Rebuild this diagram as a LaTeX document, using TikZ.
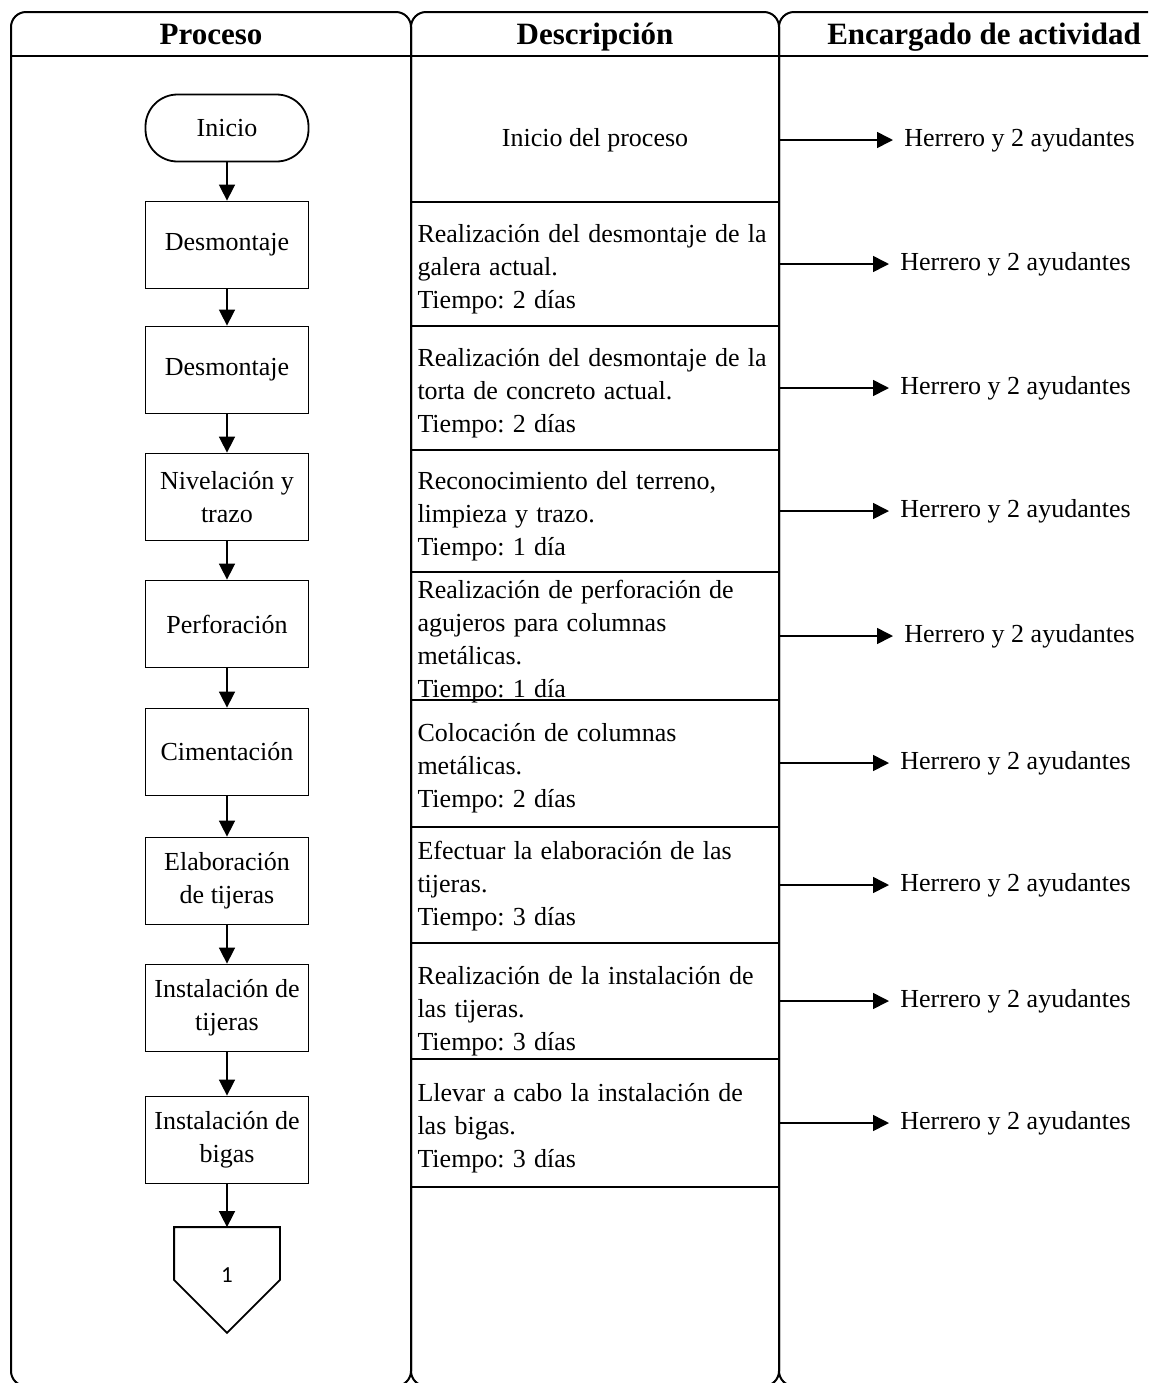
\documentclass[tikz,border=0pt]{standalone}
\usepackage{fontspec}
\setmainfont{Liberation Serif}
\newfontfamily\numfont{Carlito}
\usetikzlibrary{arrows.meta}
\newcommand{\rowtext}[2][2.5pt]{\raisebox{-#1}[\height][\depth]{\parbox{177.5pt}{\raggedright\spaceskip=4.1pt plus 1pt #2}}}

\begin{document}
\frenchspacing
\begin{tikzpicture}[x=0.5pt,y=-0.5pt]
   \tikzstyle{every node}=[font=\fontsize{13}{16.5}\selectfont]
   \tikzstyle{lane}=[draw, line width=1pt, rounded corners=7.5pt]
   \tikzstyle{head}=[anchor=base, font=\fontsize{15.5}{18}\selectfont\bfseries]
   \tikzstyle{proc}=[draw, line width=0.9pt, minimum width=81.5pt, minimum height=43.5pt, align=center, inner sep=1pt]
   \tikzstyle{term}=[proc, rounded corners=16pt, minimum height=33.5pt]
   \tikzstyle{desc}=[draw, line width=0.9pt, inner xsep=3pt, inner ysep=0pt]
   \tikzstyle{who}=[anchor=west, inner xsep=5.5pt]
   \tikzstyle{flow}=[-{Triangle[length=8pt,width=8pt]}, line width=0.8pt]

\useasboundingbox (0,0) rectangle (1148,1383);
\clip (0,0) rectangle (1148,1383);

\draw[lane] (11,12) rectangle (411,1386);
\draw[lane] (411,12) rectangle (779,1386);
\draw[lane] (779,12) rectangle (1190,1386);
\draw[line width=1pt] (11,56) -- (1190,56);

\node[head] (proceso) at (211,44) {Proceso};
\node[head] (descripcion) at (595,44) {Descripción};
\node[head] (encargado) at (984,44) {Encargado de actividad};

\node[term] (p0) at (227,128) {Inicio};
\node[proc] (p1) at (227,245) {Desmontaje};
\node[proc] (p2) at (227,370) {Desmontaje};
\node[proc] (p3) at (227,497) {Nivelación y\\trazo};
\node[proc] (p4) at (227,624) {Perforación};
\node[proc] (p5) at (227,752) {Cimentación};
\node[proc] (p6) at (227,881) {Elaboración\\de tijeras};
\node[proc] (p7) at (227,1008) {Instalación de\\tijeras};
\node[proc] (p8) at (227,1140) {Instalación de\\bigas};
\node[minimum width=52.5pt, minimum height=52.5pt, font=\numfont\fontsize{11.5}{13}\selectfont] (p9) at (227,1280) {\raisebox{5pt}{1}};
\draw[line width=0.9pt] (p9.north west) -- (p9.north east) -- (p9.east) -- (p9.south) -- (p9.west) -- cycle;

\draw[flow] (p0) -- (p1);
\draw[flow] (p1) -- (p2);
\draw[flow] (p2) -- (p3);
\draw[flow] (p3) -- (p4);
\draw[flow] (p4) -- (p5);
\draw[flow] (p5) -- (p6);
\draw[flow] (p6) -- (p7);
\draw[flow] (p7) -- (p8);
\draw[flow] (p8) -- (p9.north);

\node[minimum width=183.5pt] (d1) at (595,140) {Inicio del proceso};
\node[desc, minimum height=62pt] (d2) at (595,264) {\rowtext{Realización del desmontaje de la\\galera actual.\\Tiempo: 2 días}};
\node[desc, minimum height=62pt] (d3) at (595,388) {\rowtext{Realización del desmontaje de la\\torta de concreto actual.\\Tiempo: 2 días}};
\node[desc, minimum height=61pt] (d4) at (595,511) {\rowtext{Reconocimiento del terreno,\\limpieza y trazo.\\Tiempo: 1 día}};
\node[desc, minimum height=64pt] (d5) at (595,636) {\rowtext[2.8pt]{Realización de perforación de\\agujeros para columnas\\metálicas.\\Tiempo: 1 día}};
\node[desc, minimum height=63.5pt] (d6) at (595,763) {\rowtext{Colocación de columnas\\metálicas.\\Tiempo: 2 días}};
\node[desc, minimum height=58pt] (d7) at (595,885) {\rowtext[0.5pt]{Efectuar la elaboración de las\\tijeras.\\Tiempo: 3 días}};
\node[desc, minimum height=58pt] (d8) at (595,1001) {\rowtext[5pt]{Realización de la instalación de\\las tijeras.\\Tiempo: 3 días}};
\node[desc, minimum height=64pt] (d9) at (595,1123) {\rowtext{Llevar a cabo la instalación de\\las bigas.\\Tiempo: 3 días}};

\node[who] (h1) at (893,140) {Herrero y 2 ayudantes};
\node[who] (h2) at (889,264) {Herrero y 2 ayudantes};
\node[who] (h3) at (889,388) {Herrero y 2 ayudantes};
\node[who] (h4) at (889,511) {Herrero y 2 ayudantes};
\node[who] (h5) at (893,636) {Herrero y 2 ayudantes};
\node[who] (h6) at (889,763) {Herrero y 2 ayudantes};
\node[who] (h7) at (889,885) {Herrero y 2 ayudantes};
\node[who] (h8) at (889,1001) {Herrero y 2 ayudantes};
\node[who] (h9) at (889,1123) {Herrero y 2 ayudantes};

\draw[flow] (d1.east) -- (h1.west);
\draw[flow] (d2.east) -- (h2.west);
\draw[flow] (d3.east) -- (h3.west);
\draw[flow] (d4.east) -- (h4.west);
\draw[flow] (d5.east) -- (h5.west);
\draw[flow] (d6.east) -- (h6.west);
\draw[flow] (d7.east) -- (h7.west);
\draw[flow] (d8.east) -- (h8.west);
\draw[flow] (d9.east) -- (h9.west);

\end{tikzpicture}
\end{document}
